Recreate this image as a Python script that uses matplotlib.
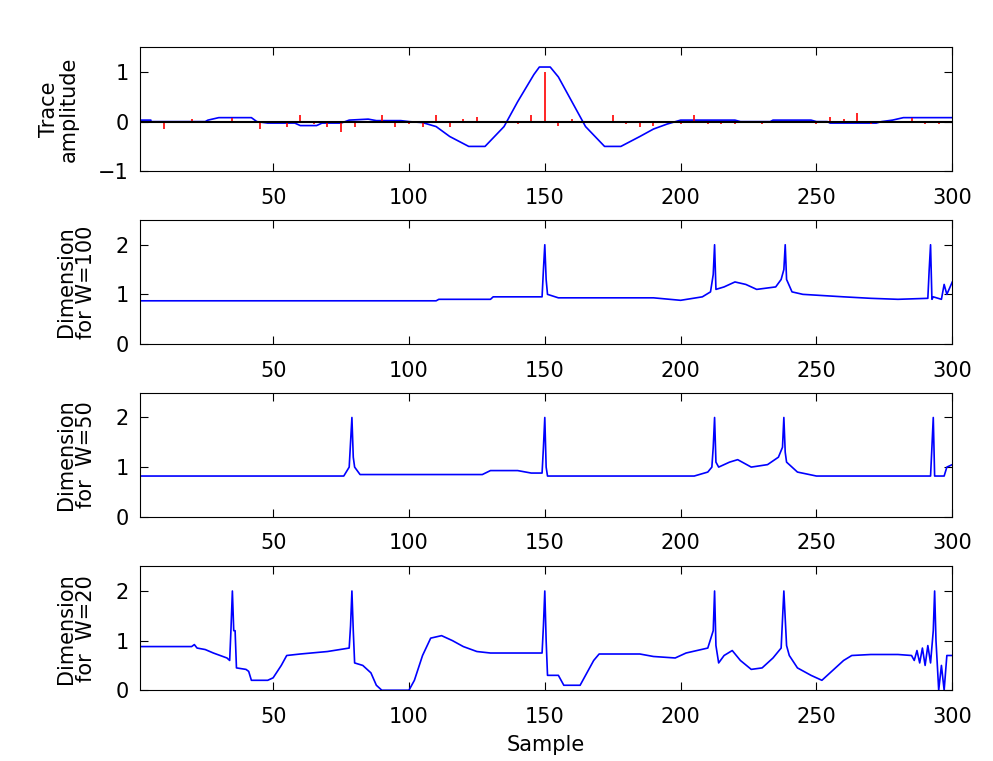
import numpy as np
import matplotlib.pyplot as plt

# trace (blue) and reflectivity spikes (red)
trace_x = [1, 5, 5, 25, 26, 30, 42, 44, 48, 58, 60, 66, 68, 75, 78, 85, 88, 97, 100, 105, 110, 115, 122, 128,
           135, 140, 146, 148, 152, 155, 160, 165, 172, 178, 185, 190, 195, 200, 220, 222, 233, 234, 248, 250,
           254, 255, 272, 274, 278, 282, 300]
trace_y = [0.03, 0.03, 0, 0, 0.03, 0.08, 0.08, 0.0, -0.03, -0.03, -0.08, -0.08, -0.03, -0.03, 0.03, 0.05, 0.02,
           0.02, 0, -0.02, -0.1, -0.3, -0.5, -0.5, -0.1, 0.4, 0.95, 1.1, 1.1, 0.9, 0.4, -0.1, -0.5, -0.5, -0.3,
           -0.15, -0.05, 0.03, 0.03, 0, 0, 0.03, 0.03, 0, 0, -0.03, -0.03, 0, 0.03, 0.08, 0.08]
spike_x = [10, 20, 35, 45, 55, 60, 65, 70, 75, 80, 90, 95, 100, 105, 110, 115, 120, 125, 140, 145, 150, 155,
           160, 175, 180, 185, 190, 200, 205, 210, 215, 220, 230, 250, 255, 260, 265, 270, 285, 290, 295]
spike_y = [-0.15, 0.05, 0.07, -0.15, -0.1, 0.13, -0.05, -0.1, -0.2, -0.1, 0.13, -0.1, -0.05, -0.1, 0.13, -0.1,
           0.05, 0.1, -0.05, 0.13, 1.0, -0.08, 0.05, 0.13, -0.05, -0.1, -0.08, -0.05, 0.13, -0.05, -0.05, -0.05,
           -0.05, -0.05, 0.1, 0.05, 0.18, -0.05, 0.08, -0.05, -0.05]

# dimension for W=100
w100_x = [1, 110, 111, 130, 131, 149, 149.5, 150, 150.5, 151, 155, 190, 200, 208, 211, 212, 212.5, 213, 216,
          220, 224, 228, 235, 237, 238, 238.5, 239, 241, 245, 260, 270, 280, 291, 291.5, 292, 292.5, 293, 296,
          297, 298, 300]
w100_y = [0.87, 0.87, 0.9, 0.9, 0.95, 0.95, 1.5, 2.0, 1.3, 1.0, 0.93, 0.93, 0.88, 0.95, 1.05, 1.4, 2.0, 1.1,
          1.15, 1.25, 1.2, 1.1, 1.15, 1.3, 1.5, 2.0, 1.3, 1.05, 1.0, 0.95, 0.92, 0.9, 0.92, 1.5, 2.0, 0.9, 0.95,
          0.9, 1.2, 1.0, 1.25]

# dimension for W=50
w50_x = [1, 76, 78, 79, 79.5, 80, 82, 127, 130, 140, 145, 149, 149.5, 150, 150.5, 151, 205, 210, 211.5, 212,
         212.5, 213, 214, 218, 221, 226, 232, 236, 237.5, 238, 238.5, 239, 243, 250, 292, 292.5, 293, 293.5,
         297, 298, 300]
w50_y = [0.82, 0.82, 1.0, 2.0, 1.2, 1.0, 0.85, 0.85, 0.93, 0.93, 0.88, 0.88, 1.4, 2.0, 1.0, 0.82, 0.82, 0.9,
         1.0, 1.4, 2.0, 1.1, 1.0, 1.1, 1.15, 1.0, 1.05, 1.2, 1.4, 2.0, 1.3, 1.1, 0.9, 0.82, 0.82, 1.4, 2.0, 0.82,
         0.82, 1.0, 1.05]

# dimension for W=20
w20_x = [1, 20, 21, 22, 25, 28, 33, 34, 34.5, 35, 35.5, 36, 36.5, 40, 41, 42, 48, 50, 53, 55, 60, 70, 78, 78.5,
         79, 79.5, 80, 83, 86, 88, 90, 100, 102, 105, 108, 112, 116, 120, 125, 130, 149, 149.5, 150, 150.5, 151,
         155, 157, 163, 168, 170, 185, 190, 198, 202, 210, 212, 212.5, 213, 214, 216, 219, 222, 226, 230, 234,
         237, 238, 239, 240, 243, 248, 252, 255, 260, 263, 270, 280, 285, 286, 287, 288, 289, 290, 291, 292,
         293, 293.5, 294, 295, 296, 297, 298, 300]
w20_y = [0.88, 0.88, 0.92, 0.85, 0.82, 0.75, 0.65, 0.6, 1.25, 2.0, 1.2, 1.2, 0.45, 0.42, 0.38, 0.2, 0.2, 0.25,
         0.5, 0.7, 0.73, 0.78, 0.85, 1.3, 2.0, 1.2, 0.55, 0.5, 0.35, 0.1, 0, 0, 0.2, 0.7, 1.05, 1.1, 1.0, 0.88,
         0.78, 0.75, 0.75, 1.3, 2.0, 1.0, 0.3, 0.3, 0.1, 0.1, 0.6, 0.73, 0.73, 0.68, 0.65, 0.75, 0.85, 1.2, 2.0,
         0.9, 0.55, 0.7, 0.8, 0.6, 0.42, 0.45, 0.65, 0.85, 2.0, 0.9, 0.7, 0.45, 0.3, 0.2, 0.35, 0.6, 0.7, 0.72,
         0.72, 0.7, 0.6, 0.8, 0.55, 0.85, 0.5, 0.9, 0.55, 1.2, 2.0, 1.0, 0, 0.5, 0, 0.7, 0.7]

plt.rcParams["font.family"] = "DejaVu Sans"
plt.rcParams["font.size"] = 15
plt.rcParams["xtick.direction"] = "in"
plt.rcParams["ytick.direction"] = "in"
plt.rcParams["xtick.top"] = True
plt.rcParams["ytick.right"] = True
plt.rcParams["xtick.major.size"] = 6
plt.rcParams["ytick.major.size"] = 6

fig = plt.figure(figsize=(9.93, 7.61), dpi=100)

panels = [
    (0.775, "Trace\namplitude", None, None),
    (0.548, "Dimension\nfor W=100", w100_x, w100_y),
    (0.321, "Dimension\nfor  W=50", w50_x, w50_y),
    (0.093, "Dimension\nfor  W=20", w20_x, w20_y),
]

for bottom, label, xs, ys in panels:
    ax = plt.axes([0.141, bottom, 0.818, 0.163])
    if xs is None:
        ax.plot(trace_x, trace_y, color="blue", linewidth=1.2)
        ax.vlines(spike_x, 0, spike_y, color="red", linewidth=1.2)
        ax.axhline(0, color="black", linewidth=1.5)
        ax.set_ylim(-1, 1.5)
        ax.set_yticks([-1, 0, 1])
    else:
        ax.plot(xs, ys, color="blue", linewidth=1.2)
        ax.set_ylim(0, 2.5)
        ax.set_yticks([0, 1, 2])
    ax.set_xlim(1, 300)
    ax.set_xticks([50, 100, 150, 200, 250, 300])
    ax.set_ylabel(label, linespacing=1.0, labelpad=14)
    ax.tick_params(axis="x", pad=12)
    ax.tick_params(axis="y", pad=8)

plt.xlabel("Sample", labelpad=6)

plt.savefig("out.png", dpi=100)
